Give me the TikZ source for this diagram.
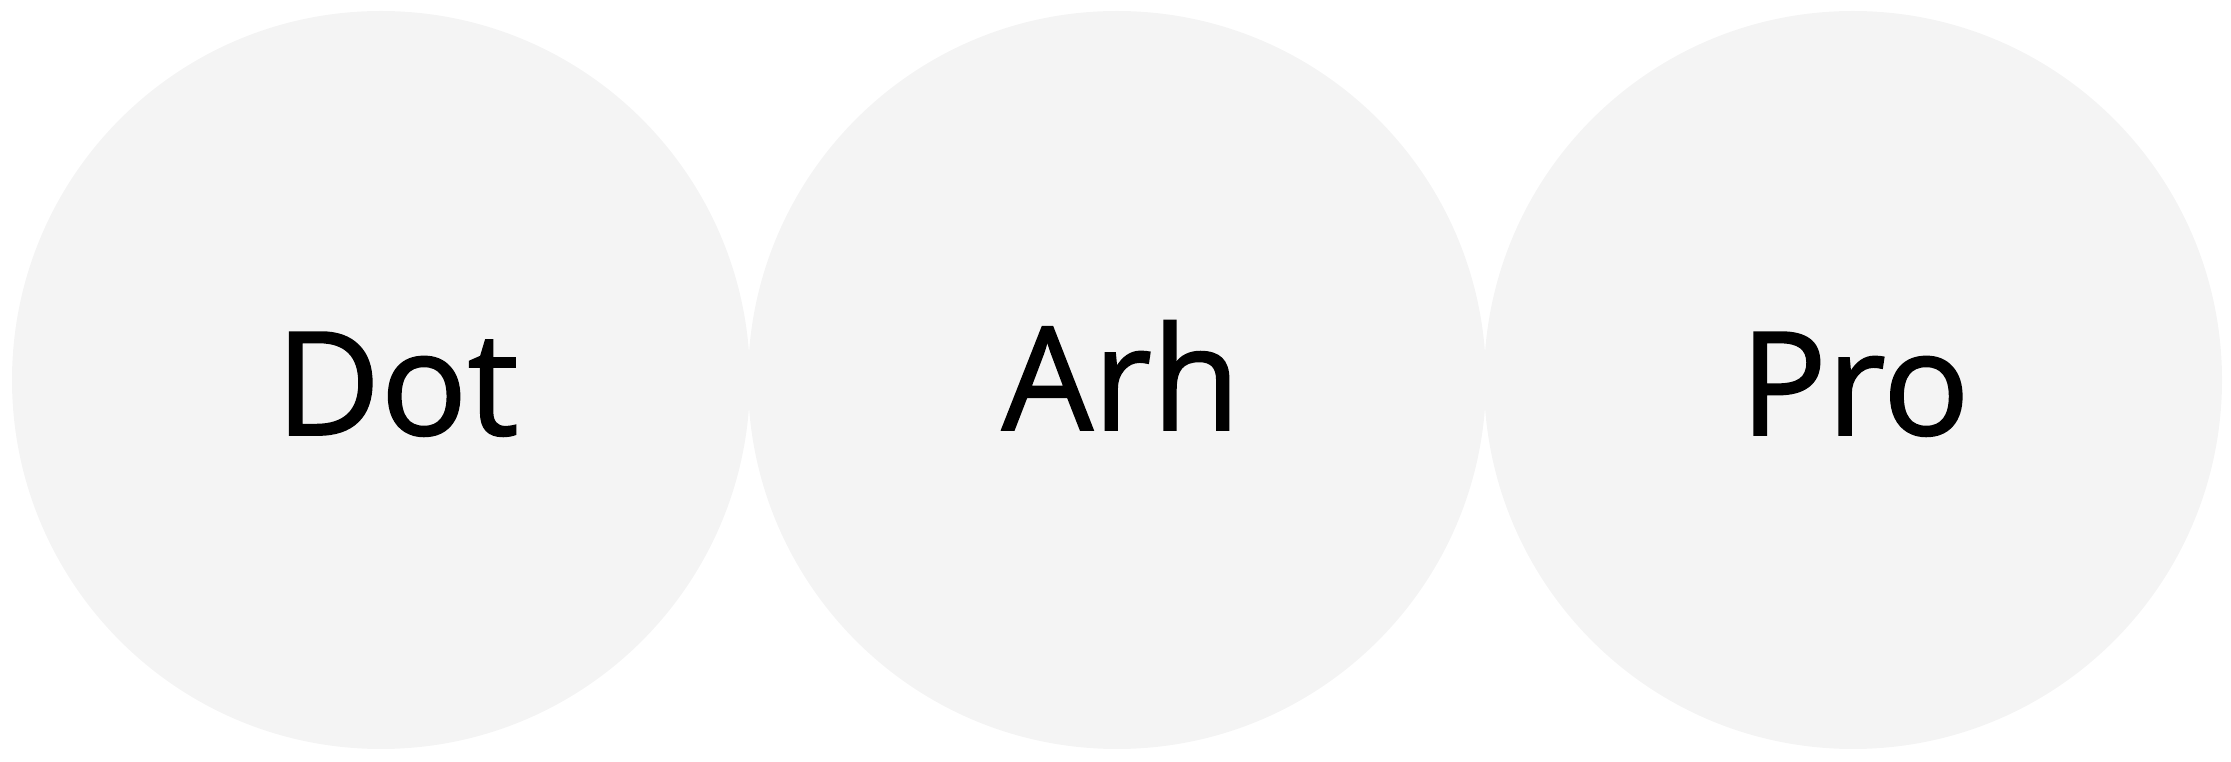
\documentclass[tikz,border=0pt]{standalone}
\usepackage{fontspec}
\newfontfamily\stagefont{Open Sans}[FakeBold=1.2]
\definecolor{circgray}{RGB}{244, 244, 244}
\usepackage{tikz}
\usetikzlibrary{positioning}

\begin{document}
\begin{tikzpicture}[
    stagecirc/.style={circle, fill=circgray, draw=none, inner sep=0pt, minimum size=7.38cm},
    stagelabel/.style={font=\stagefont\fontsize{41}{49}\selectfont, text=black, inner sep=0pt, anchor=base}
  ]
  \useasboundingbox (0, 0) rectangle (22.31, 7.62);

  % Circles
  \node[stagecirc] (dot) at (3.81, 3.82) {};
  \node[stagecirc] (arh) at (11.17, 3.82) {};
  \node[stagecirc] (pro) at (18.53, 3.82) {};

  % Labels
  \node[stagelabel] (dotlabel) at ([xshift=0.16cm, yshift=-0.55cm]dot.center) {Dot};
  \node[stagelabel] (arhlabel) at ([xshift=0.04cm, yshift=-0.50cm]arh.center) {Arh};
  \node[stagelabel] (prolabel) at ([xshift=0.02cm, yshift=-0.55cm]pro.center) {Pro};
\end{tikzpicture}
\end{document}
